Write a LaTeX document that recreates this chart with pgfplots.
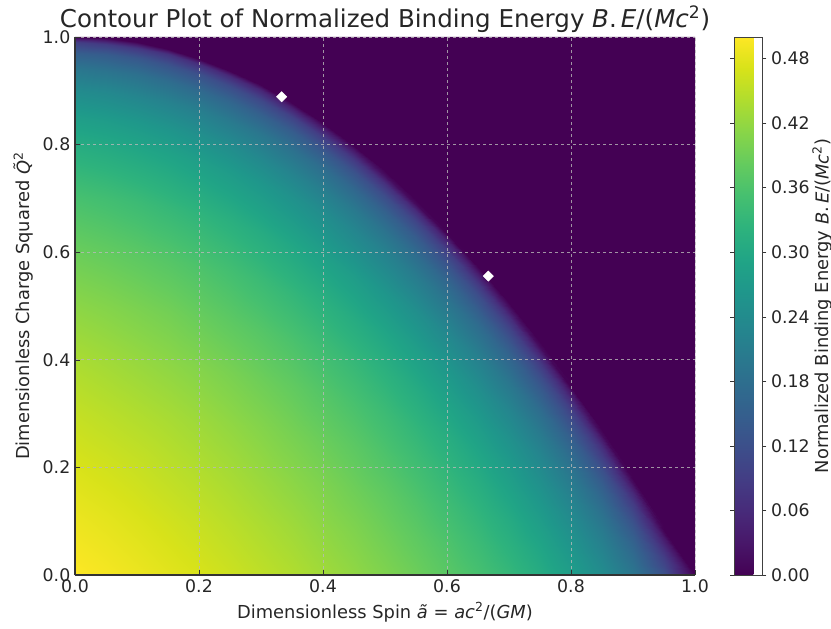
\documentclass[border=0pt]{standalone}
\usepackage{fontspec}
\setmainfont{DejaVu Sans}
\usepackage{pgfplots}
\pgfplotsset{compat=1.18}
\definecolor{txt}{HTML}{262626}
\definecolor{vdark}{RGB}{68,1,84}
\begin{document}
\begin{tikzpicture}
\path[use as bounding box] (-56.25pt,-39.75pt) rectangle (567pt,431.25pt);
\begin{axis}[
  scale only axis, width=465pt, height=403.5pt,
  view={0}{90},
  xmin=0, xmax=1, ymin=0, ymax=1,
  axis background/.style={fill=vdark},
  xtick={0,0.2,0.4,0.6,0.8,1.0}, ytick={0,0.2,0.4,0.6,0.8,1.0},
  xticklabel style={/pgf/number format/.cd, fixed, fixed zerofill, precision=1, assume math mode=true},
  yticklabel style={/pgf/number format/.cd, fixed, fixed zerofill, precision=1, assume math mode=true},
  tick label style={font=\fontsize{13}{15}\selectfont, text=txt},
  label style={font=\fontsize{13.4}{16}\selectfont, text=txt},
  title style={font=\fontsize{18.4}{22}\selectfont, text=txt, yshift=-6pt},
  title={Contour Plot of Normalized Binding Energy \textit{B}.\,\textit{E}/(\textit{Mc}\textsuperscript{2})},
  xlabel={Dimensionless Spin \textit{ã} = \textit{ac}\textsuperscript{2}/(\textit{GM})},
  ylabel={Dimensionless Charge Squared \textit{\~{Q}}\textsuperscript{2}},
  axis x line*=bottom, axis y line*=left,
  axis line style={black!80, line width=0.8pt},
  tick align=inside, major tick length=4pt, tick style={black!80},
  grid=major,
  major grid style={gray!55, draw opacity=0.8, dash pattern=on 2.5pt off 2pt, line width=0.5pt},
  axis on top,
  colormap/viridis,
  point meta min=0, point meta max=0.5,
  colorbar,
  colorbar style={
    at={(parent axis.north east)}, anchor=north west, xshift=21pt,
    width=21pt,
    ytick={0,0.06,0.12,0.18,0.24,0.30,0.36,0.42,0.48},
    yticklabel style={/pgf/number format/.cd, fixed, fixed zerofill, precision=2, assume math mode=true},
    tick label style={font=\fontsize{13}{15}\selectfont, text=txt},
    ylabel={Normalized Binding Energy \textit{B}.\,\textit{E}/(\textit{Mc}\textsuperscript{2})},
    ylabel style={font=\fontsize{13.4}{16}\selectfont, text=txt, at={(axis description cs:3.14,0.5)}, anchor=center},
    axis line style={black!75},
    tick align=outside, major tick length=3pt, tick style={black!80},
  },
]
% columns of constant spin, each running from Q^2=0 up to the edge of the allowed region
\addplot3[surf, shader=interp, mesh/ordering=y varies, mesh/rows=15, mesh/cols=21] coordinates {
(0,0,.500) (0,.1,.487) (0,.2,.472) (0,.3,.456) (0,.4,.437) (0,.5,.414) (0,.6,.387) (0,.7,.354) (0,.8,.309) (0,.85,.279) (0,.9,.240) (0,.94,.197) (0,.97,.148) (0,.99,.091) (0,1,0)
(.05,0,.494) (.05,.0998,.481) (.05,.1995,.466) (.05,.2993,.449) (.05,.399,.430) (.05,.4988,.408) (.05,.5985,.381) (.05,.6983,.348) (.05,.798,.303) (.05,.8479,.273) (.05,.8978,.234) (.05,.9377,.191) (.05,.9676,.142) (.05,.9875,.085) (.05,.9975,0)
(.1,0,.487) (.1,.099,.474) (.1,.198,.459) (.1,.297,.442) (.1,.396,.423) (.1,.495,.401) (.1,.594,.374) (.1,.693,.341) (.1,.792,.296) (.1,.8415,.266) (.1,.891,.227) (.1,.9306,.184) (.1,.9603,.135) (.1,.9801,.079) (.1,.99,0)
(.15,0,.479) (.15,.0978,.466) (.15,.1955,.451) (.15,.2933,.435) (.15,.391,.416) (.15,.4888,.394) (.15,.5865,.367) (.15,.6843,.333) (.15,.782,.289) (.15,.8309,.259) (.15,.8798,.220) (.15,.9189,.177) (.15,.9482,.128) (.15,.9677,.072) (.15,.9775,0)
(.2,0,.471) (.2,.096,.458) (.2,.192,.443) (.2,.288,.427) (.2,.384,.408) (.2,.48,.385) (.2,.576,.359) (.2,.672,.325) (.2,.768,.281) (.2,.816,.251) (.2,.864,.213) (.2,.9024,.170) (.2,.9312,.121) (.2,.9504,.065) (.2,.96,0)
(.25,0,.462) (.25,.0938,.449) (.25,.1875,.434) (.25,.2813,.418) (.25,.375,.399) (.25,.4688,.376) (.25,.5625,.350) (.25,.6563,.317) (.25,.75,.272) (.25,.7969,.243) (.25,.8438,.204) (.25,.8813,.162) (.25,.9094,.114) (.25,.9281,.058) (.25,.9375,0)
(.3,0,.452) (.3,.091,.439) (.3,.182,.424) (.3,.273,.408) (.3,.364,.389) (.3,.455,.367) (.3,.546,.340) (.3,.637,.307) (.3,.728,.263) (.3,.7735,.234) (.3,.819,.196) (.3,.8554,.153) (.3,.8827,.106) (.3,.9009,.051) (.3,.91,0)
(.35,0,.442) (.35,.0878,.429) (.35,.1755,.414) (.35,.2633,.397) (.35,.351,.379) (.35,.4388,.357) (.35,.5265,.330) (.35,.6143,.297) (.35,.702,.253) (.35,.7459,.224) (.35,.7898,.187) (.35,.8249,.145) (.35,.8512,.098) (.35,.8687,.044) (.35,.8775,0)
(.4,0,.430) (.4,.084,.417) (.4,.168,.403) (.4,.252,.386) (.4,.336,.367) (.4,.42,.345) (.4,.504,.319) (.4,.588,.286) (.4,.672,.243) (.4,.714,.214) (.4,.756,.177) (.4,.7896,.135) (.4,.8148,.089) (.4,.8316,.036) (.4,.84,0)
(.45,0,.418) (.45,.0798,.405) (.45,.1595,.390) (.45,.2393,.374) (.45,.319,.355) (.45,.3988,.333) (.45,.4785,.307) (.45,.5583,.275) (.45,.638,.231) (.45,.6779,.203) (.45,.7178,.166) (.45,.7497,.126) (.45,.7736,.080) (.45,.7895,.028) (.45,.7975,0)
(.5,0,.404) (.5,.075,.391) (.5,.15,.377) (.5,.225,.360) (.5,.3,.342) (.5,.375,.320) (.5,.45,.294) (.5,.525,.262) (.5,.6,.219) (.5,.6375,.191) (.5,.675,.155) (.5,.705,.115) (.5,.7275,.070) (.5,.7425,.020) (.5,.75,0)
(.55,0,.389) (.55,.0698,.376) (.55,.1395,.362) (.55,.2093,.345) (.55,.279,.327) (.55,.3488,.305) (.55,.4185,.280) (.55,.4883,.248) (.55,.558,.206) (.55,.5929,.178) (.55,.6278,.143) (.55,.6557,.104) (.55,.6766,.060) (.55,.6905,.011) (.55,.6975,0)
(.6,0,.372) (.6,.064,.360) (.6,.128,.345) (.6,.192,.329) (.6,.256,.311) (.6,.32,.289) (.6,.384,.264) (.6,.448,.233) (.6,.512,.192) (.6,.544,.165) (.6,.576,.130) (.6,.6016,.092) (.6,.6208,.050) (.6,.6336,.002) (.6,.64,0)
(.65,0,.354) (.65,.0578,.341) (.65,.1155,.327) (.65,.1733,.311) (.65,.231,.293) (.65,.2888,.272) (.65,.3465,.247) (.65,.4043,.216) (.65,.462,.176) (.65,.4909,.149) (.65,.5198,.116) (.65,.5429,.079) (.65,.5602,.038) (.65,.5717,0) (.65,.5775,0)
(.7,0,.333) (.7,.051,.320) (.7,.102,.306) (.7,.153,.290) (.7,.204,.272) (.7,.255,.252) (.7,.306,.227) (.7,.357,.197) (.7,.408,.158) (.7,.4335,.133) (.7,.459,.100) (.7,.4794,.065) (.7,.4947,.026) (.7,.5049,0) (.7,.51,0)
(.75,0,.308) (.75,.0438,.296) (.75,.0875,.282) (.75,.1313,.266) (.75,.175,.249) (.75,.2188,.229) (.75,.2625,.205) (.75,.3063,.176) (.75,.35,.138) (.75,.3719,.114) (.75,.3938,.083) (.75,.4113,.049) (.75,.4244,.013) (.75,.4331,0) (.75,.4375,0)
(.8,0,.279) (.8,.036,.267) (.8,.072,.253) (.8,.108,.238) (.8,.144,.221) (.8,.18,.202) (.8,.216,.179) (.8,.252,.151) (.8,.288,.116) (.8,.306,.093) (.8,.324,.064) (.8,.3384,.032) (.8,.3492,0) (.8,.3564,0) (.8,.36,0)
(.85,0,.243) (.85,.0278,.231) (.85,.0555,.218) (.85,.0833,.204) (.85,.111,.188) (.85,.1388,.169) (.85,.1665,.148) (.85,.1943,.122) (.85,.222,.089) (.85,.2359,.067) (.85,.2498,.041) (.85,.2609,.012) (.85,.2692,0) (.85,.2747,0) (.85,.2775,0)
(.9,0,.196) (.9,.019,.185) (.9,.038,.173) (.9,.057,.159) (.9,.076,.144) (.9,.095,.128) (.9,.114,.108) (.9,.133,.085) (.9,.152,.055) (.9,.1615,.036) (.9,.171,.013) (.9,.1786,0) (.9,.1843,0) (.9,.1881,0) (.9,.19,0)
(.95,0,.124) (.95,.0098,.115) (.95,.0195,.104) (.95,.0293,.093) (.95,.039,.081) (.95,.0488,.067) (.95,.0585,.051) (.95,.0683,.032) (.95,.078,.009) (.95,.0829,0) (.95,.0878,0) (.95,.0917,0) (.95,.0946,0) (.95,.0965,0) (.95,.0975,0)
(1,0,0) (1,0,0) (1,0,0) (1,0,0) (1,0,0) (1,0,0) (1,0,0) (1,0,0) (1,0,0) (1,0,0) (1,0,0) (1,0,0) (1,0,0) (1,0,0) (1,0,0)
};
\addplot[only marks, mark=square*, mark size=2.7pt, mark options={rotate=45, fill=white, draw=white}] coordinates {(0.3333,0.8889) (0.6667,0.5556)};
\end{axis}
\end{tikzpicture}
\end{document}
